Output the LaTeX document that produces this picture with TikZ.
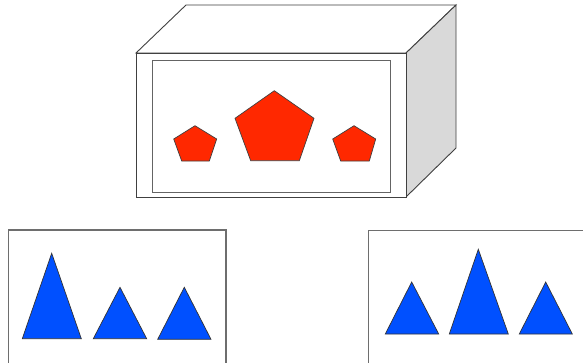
\documentclass[tikz,border=0pt]{standalone}
\usepackage{tikz}
\definecolor{boxline}{RGB}{64,64,64}
\definecolor{sidegrey}{RGB}{217,217,217}
\definecolor{innerline}{RGB}{100,100,100}
\definecolor{panelline}{RGB}{110,110,110}
\definecolor{pentred}{RGB}{255,40,0}
\definecolor{triblue}{RGB}{0,80,255}
\tikzset{
  boxedge/.style={draw=boxline, line width=0.9pt, line join=miter},
  innerframe/.style={draw=innerline, line width=1.3pt},
  panelframe/.style={draw=panelline, line width=1.1pt},
  pent/.style={fill=pentred, draw=black!75, line width=0.7pt, line join=miter},
  tri/.style={fill=triblue, draw=black!80, line width=0.7pt, line join=miter}
}
\begin{document}
\begin{tikzpicture}[x=1pt,y=-1pt]
\useasboundingbox (0,0) rectangle (583,362);
\clip (0,0) rectangle (583,362);
\fill[white] (0,0) rectangle (583,362);
% box
\draw[boxedge, fill=white] (136,53) -- (186,5) -- (456,5) -- (406,53) -- cycle;
\draw[boxedge, fill=sidegrey] (406,53) -- (456,5) -- (456,148) -- (406,197) -- cycle;
\draw[boxedge, fill=white] (136,53) rectangle (406,197);
\draw[innerframe] (152.3,60.7) rectangle (390.7,192.5);
% pentagons
\draw[pent] (274.3,90.7) -- (314,118.3) -- (299.3,160.7) -- (250.7,160.7) -- (235,118.3) -- cycle;
\draw[pent] (195,125.7) -- (216.7,139) -- (209.3,161) -- (181.7,161) -- (173.7,139) -- cycle;
\draw[pent] (354,125.7) -- (375.7,139) -- (369.3,161) -- (340.7,161) -- (332.7,139) -- cycle;
% left panel
\draw[panelframe] (8.3,230) rectangle (226,380);
\draw[tri] (51.7,253.3) -- (81.3,338.7) -- (22.3,338.7) -- cycle;
\draw[tri] (120,287.3) -- (146.7,338.7) -- (93.3,338.7) -- cycle;
\draw[tri] (184.3,287.3) -- (211,339.3) -- (157.7,339.3) -- cycle;
% right panel
\draw[panelframe] (368.3,230.7) rectangle (600,380);
\draw[tri] (411.7,282) -- (438.7,334) -- (385.3,334) -- cycle;
\draw[tri] (478.3,249.3) -- (508.3,334) -- (449.3,334) -- cycle;
\draw[tri] (545.7,282) -- (572.3,334) -- (519.3,334) -- cycle;
\end{tikzpicture}
\end{document}
